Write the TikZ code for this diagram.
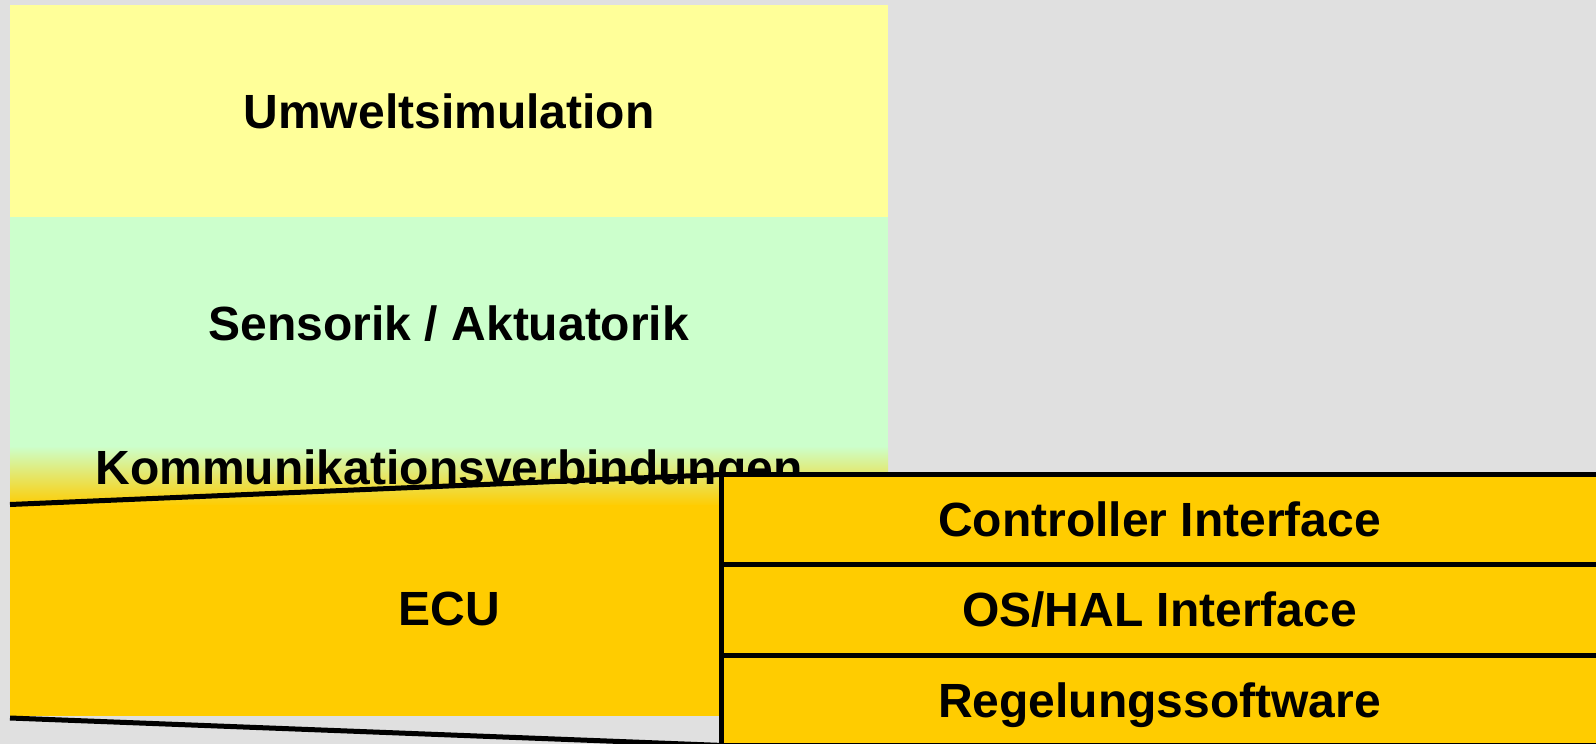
\documentclass[tikz,border=0pt]{standalone}
\usepackage{fontspec}
\setmainfont{Liberation Sans}
\definecolor{bggray}{HTML}{E0E0E0}
\definecolor{envyellow}{HTML}{FFFF99}
\definecolor{sensgreen}{HTML}{CCFFCC}
\definecolor{ecuorange}{HTML}{FFCC00}
\begin{document}
\begin{tikzpicture}[x=1bp,y=-1bp,
  lbl/.style={font=\fontsize{48bp}{56bp}\selectfont\bfseries, text=black, inner sep=0pt, anchor=base},
  rowbox/.style={draw=black, line width=5bp, fill=ecuorange, anchor=north west,
    minimum width=877bp, minimum height=90.3bp, inner sep=0pt, outer sep=0pt,
    font=\fontsize{48bp}{56bp}\selectfont\bfseries, text height=34bp, text depth=0pt},
  zoomline/.style={draw=black, line width=5bp}]
  \useasboundingbox (0,0) rectangle (1596,744);
  \fill[bggray] (0,0) rectangle (1596,744);

  % layered model on the left
  \fill[envyellow] (10,5) rectangle (888,217);
  \fill[sensgreen] (10,217) rectangle (888,447);
  \shade[top color=sensgreen, bottom color=ecuorange] (10,446) rectangle (888,506);
  \fill[ecuorange] (10,505) rectangle (888,716);

  \node[lbl] (umwelt) at (449,128.3) {Umweltsimulation};
  \node[lbl] (sensor) at (449,340.7) {Sensorik / Aktuatorik};
  \node[lbl] (komm)   at (449,484)   {Kommunikationsverbindungen};
  \node[lbl] (ecu)    at (449,625.5) {ECU};

  % detail of the ECU
  \node[rowbox] (ctrl)  at (721,474.5) {Controller Interface};
  \node[rowbox] (oshal) at (ctrl.south west)  {OS/HAL Interface};
  \node[rowbox] (regel) at (oshal.south west) {Regelungssoftware};

  % zoom lines from the ECU layer to its detail
  \coordinate (ecutop) at (10,504.5);
  \coordinate (ecubot) at (10,718);
  \draw[zoomline] (ecutop) -- (ctrl.north west);
  \draw[zoomline] (ecubot) -- (regel.south west);
\end{tikzpicture}
\end{document}
